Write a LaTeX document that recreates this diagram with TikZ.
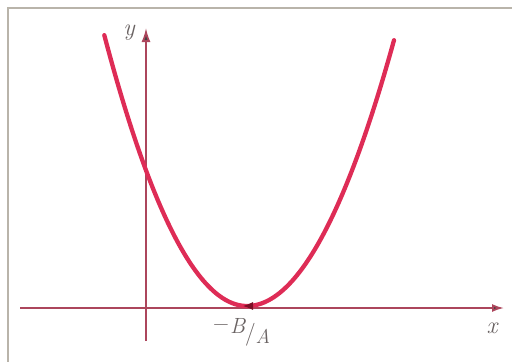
\documentclass[tikz,border=0pt]{standalone}
\usepackage{fontspec}
\usepackage{tikz}
\usetikzlibrary{arrows.meta}
\definecolor{curvered}{RGB}{222, 44, 86}
\definecolor{axisred}{RGB}{172, 70, 92}
\definecolor{framegray}{RGB}{185, 180, 170}
\definecolor{labelgray}{RGB}{105, 98, 98}
\definecolor{markred}{RGB}{125, 15, 38}

\begin{document}
\begin{tikzpicture}[
    x=1pt, y=-1pt,
    font=\fontsize{20}{22}\selectfont,
    frameline/.style={draw=framegray, line width=1.5pt},
    axis/.style={draw=axisred, line width=1.8pt},
    curve/.style={draw=curvered, line width=4.3pt, line cap=round, line join=round},
    axislabel/.style={text=labelgray, inner sep=0pt, anchor=base, font=\fontsize{24}{26}\selectfont\itshape}
]

% ===================== FRAME =====================
\useasboundingbox (0,0) rectangle (512,362);
\coordinate (topleft) at (8,8);
\coordinate (topright) at (512,8);
\coordinate (bottomleft) at (8,362);
\draw[frameline] (topright) -- (topleft) -- (bottomleft);

% ===================== AXES =====================
\coordinate (xstart) at (20,308);
\coordinate (xend) at (504,308);
\coordinate (ystart) at (146,341);
\coordinate (yend) at (146,28);
\draw[axis, -{Latex[length=12pt, width=8pt, fill=black!75]}] (xstart) -- (xend);
\draw[axis, -{Latex[length=14pt, width=9pt, fill=black!75]}] (ystart) -- (yend);

\node[axislabel] (ylabel) at (129,35) {y};
\node[axislabel] (xlabel) at (492,333) {x};

% ===================== CURVE =====================
\draw[curve] plot[domain=104.3:247, samples=60] (\x, {306-1.33*((\x-247)/10)^2})
    -- plot[domain=247:394, samples=60] (\x, {306-1.23*((\x-247)/10)^2});

% ===================== VERTEX =====================
\coordinate (vertex) at (243,306);
\coordinate (vertexright) at (252,306);
\draw[markred, line width=1pt, -{Latex[length=10pt, width=8pt]}] (vertexright) -- (vertex);
\node[axislabel, anchor=base west, font=\fontsize{22}{24}\selectfont] (vertexlabel) at (213,334)
    {\raisebox{4pt}{−}\kern1pt\raisebox{1pt}{\itshape B}\kern0pt%
     \raisebox{-6pt}{\fontsize{23}{23}\selectfont/}\kern0pt%
     \raisebox{-9pt}{\fontsize{20}{20}\selectfont\itshape A}};

\end{tikzpicture}
\end{document}
